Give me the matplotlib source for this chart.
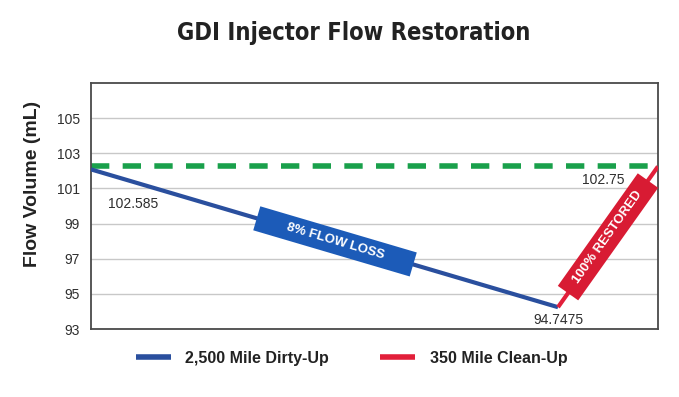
import numpy as np
import matplotlib.pyplot as plt

# data
dirty_x = [0.0, 1.0]
dirty_y = [102.585, 94.7475]
clean_x = [1.0, 1.214]
clean_y = [94.7475, 102.75]
target_level = 102.8
tick_pos = [93.5, 95.5, 97.5, 99.5, 101.5, 103.5, 105.5]
tick_lbl = ['93', '95', '97', '99', '101', '103', '105']
point_labels = ['102.585', '94.7475', '102.75']

plt.rcParams['font.family'] = ['Liberation Sans', 'DejaVu Sans']

blue_line = '#2a4f9e'
blue_box = '#1c5bb8'
red_line = '#e21f3a'
red_box = '#d81b33'
green = '#19a04b'
text_col = '#2e2e2e'

fig = plt.figure(figsize=(6.79, 3.97), dpi=100)
ax = fig.add_axes([0.134, 0.171, 0.835, 0.620])

ax.set_xlim(dirty_x[0], clean_x[-1])
ax.set_ylim(93.5, 107.5)
ax.set_yticks(tick_pos)
ax.set_yticklabels(tick_lbl, fontsize=10, color=text_col)
ax.set_xticks([])
ax.tick_params(axis='y', length=0, pad=8)
ax.grid(axis='y', color='#c8c8c8', linewidth=1)
ax.set_axisbelow(True)
for s in ax.spines.values():
    s.set_color('#4a4a4a')
    s.set_linewidth(1.3)

ax.axhline(target_level, color=green, linewidth=4, dashes=(3.3, 2.4), zorder=2)
ax.plot(dirty_x, dirty_y, color=blue_line, linewidth=3, zorder=3,
        solid_capstyle='butt', label='2,500 Mile Dirty-Up')
ax.plot(clean_x, clean_y, color=red_line, linewidth=3, zorder=3,
        solid_capstyle='butt', label='350 Mile Clean-Up')


def along(xs, ys, t):
    return xs[0] + t * (xs[1] - xs[0]), ys[0] + t * (ys[1] - ys[0])


def screen_angle(xs, ys):
    p = ax.transData.transform(np.column_stack([xs, ys]))
    return np.degrees(np.arctan2(p[1, 1] - p[0, 1], p[1, 0] - p[0, 0]))


# labelled boxes along each segment
for xs, ys, t0, t1, col, txt in [(dirty_x, dirty_y, 0.355, 0.69, blue_box, '8% FLOW LOSS'),
                                 (clean_x, clean_y, 0.1, 0.9, red_box, '100% RESTORED')]:
    a = along(xs, ys, t0)
    b = along(xs, ys, t1)
    ax.plot([a[0], b[0]], [a[1], b[1]], color=col, linewidth=18,
            solid_capstyle='butt', zorder=4)
    cx, cy = along(xs, ys, (t0 + t1) / 2)
    ax.text(cx, cy, txt, color='white', fontsize=9.5, fontweight='bold',
            rotation=screen_angle(xs, ys), rotation_mode='anchor',
            ha='center', va='center', zorder=5)

ax.annotate(point_labels[0], (dirty_x[0], dirty_y[0]), xytext=(12, -28),
            textcoords='offset points', fontsize=10, color=text_col)
ax.annotate(point_labels[1], (dirty_x[1], dirty_y[1]), xytext=(0, -9),
            textcoords='offset points', fontsize=10, color=text_col, ha='center', va='center')
ax.annotate(point_labels[2], (clean_x[1], clean_y[1]), xytext=(-24, -10),
            textcoords='offset points', fontsize=10, color=text_col, ha='right', va='center')

ax.set_ylabel('Flow Volume (mL)', fontsize=14, fontweight='bold', color='#222222')
ax.yaxis.set_label_coords(-0.088, 0.59)

fig.text(0.521, 0.918, 'GDI Injector Flow Restoration', ha='center', va='center',
         fontsize=17, fontweight='bold', color='#222222',
         family=['Liberation Sans Narrow', 'DejaVu Sans'], fontstretch='condensed')

leg = fig.legend(loc='center', bbox_to_anchor=(0.518, 0.098), ncol=2, frameon=False,
                 prop={'size': 11.5, 'weight': 'bold'}, handlelength=2.2,
                 columnspacing=3.2, handletextpad=0.9, labelcolor='#222222')
for h in leg.legend_handles:
    h.set_linewidth(4)

fig.savefig('out.png', dpi=100)
